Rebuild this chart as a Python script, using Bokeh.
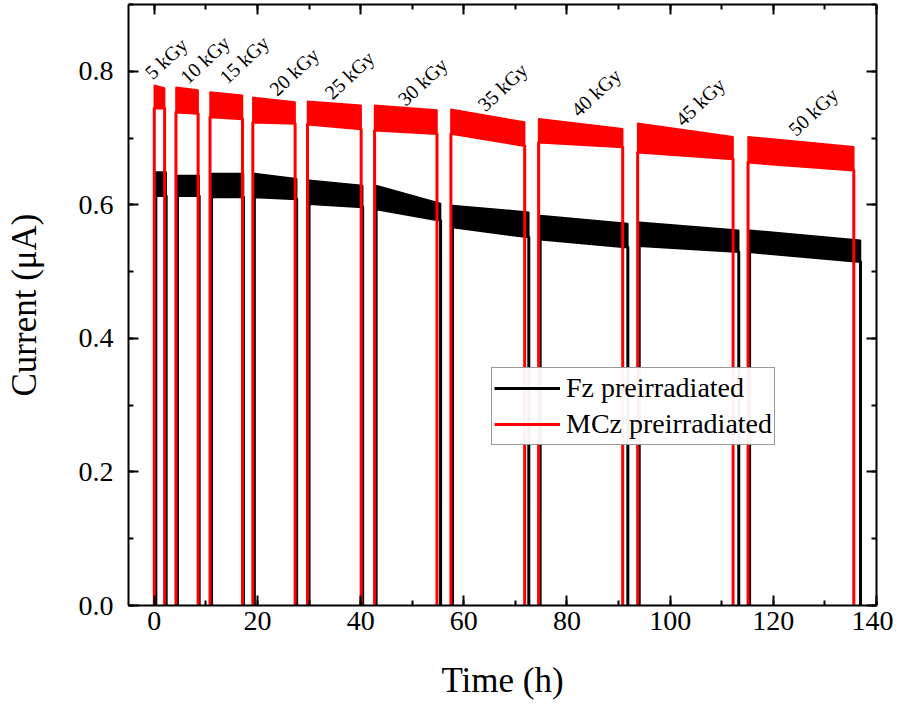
from bokeh.plotting import figure
from bokeh.models import (LinearAxis, SingleIntervalTicker, NumeralTickFormatter,
                          CustomJSTickFormatter, Range1d, Legend, LegendItem)
from bokeh.core.properties import value
from bokeh.embed import file_html
from bokeh.resources import INLINE

FONT = "Liberation Serif"

# irradiation steps (time in h when beam on / off)
red_on = [0.0, 4.2, 10.8, 19.1, 29.7, 42.7, 57.5, 74.5, 93.7, 115.1]
red_off = [2.0, 8.5, 17.1, 27.3, 40.1, 54.8, 71.8, 90.8, 112.2, 135.6]
black_on = [0.3, 4.5, 11.1, 19.4, 30.0, 43.0, 57.8, 74.8, 94.0, 115.4]
black_off = [2.3, 8.7, 17.3, 27.6, 40.4, 55.5, 72.6, 91.8, 113.3, 136.9]

# noise band of the current (uA), start / end of each step
red_top_start = [0.779, 0.776, 0.769, 0.761, 0.755, 0.749, 0.743, 0.729, 0.722, 0.702]
red_top_end = [0.775, 0.772, 0.764, 0.754, 0.749, 0.742, 0.724, 0.714, 0.702, 0.687]
red_bot_start = [0.745, 0.739, 0.732, 0.724, 0.721, 0.712, 0.707, 0.694, 0.679, 0.664]
red_bot_end = [0.745, 0.737, 0.729, 0.722, 0.714, 0.707, 0.689, 0.687, 0.669, 0.652]

black_top_start = [0.649, 0.644, 0.647, 0.647, 0.637, 0.629, 0.599, 0.584, 0.574, 0.562]
black_top_end = [0.649, 0.644, 0.647, 0.639, 0.629, 0.602, 0.589, 0.572, 0.562, 0.547]
black_bot_start = [0.614, 0.614, 0.612, 0.612, 0.602, 0.594, 0.567, 0.549, 0.539, 0.530]
black_bot_end = [0.614, 0.614, 0.612, 0.609, 0.597, 0.577, 0.552, 0.537, 0.530, 0.515]

# dose labels
label_text = ["5 kGy", "10 kGy", "15 kGy", "20 kGy", "25 kGy",
              "30 kGy", "35 kGy", "40 kGy", "45 kGy", "50 kGy"]
label_x = [-1.2, 5.6, 13.2, 22.9, 33.6, 47.8, 63.3, 81.4, 101.6, 123.5]
label_y = [0.794, 0.787, 0.787, 0.769, 0.764, 0.754, 0.746, 0.738, 0.724, 0.709]

p = figure(frame_width=748, frame_height=601,
           x_range=Range1d(-5, 140), y_range=Range1d(0, 0.9),
           x_axis_label="Time (h)", y_axis_label="Current (\u03bcA)",
           output_backend="svg", toolbar_location=None,
           min_border_left=128, min_border_right=17,
           min_border_top=4, min_border_bottom=92)
p.xgrid.visible = False
p.ygrid.visible = False
p.outline_line_color = None
xaxis = p.below[0]
yaxis = p.left[0]


def draw(on, off, top_s, top_e, bot_s, bot_e, color):
    xs = [[a, b, b, a] for a, b in zip(on, off)]
    ys = [[bs, be, te, ts] for bs, be, te, ts in zip(bot_s, bot_e, top_e, top_s)]
    p.patches(xs, ys, fill_color=color, line_color=color, line_width=1.5)
    lx = [[a, a, b, b] for a, b in zip(on, off)]
    ly = [[0, bs, be, 0] for bs, be in zip(bot_s, bot_e)]
    return p.multi_line(lx, ly, line_color=color, line_width=3)


r_black = draw(black_on, black_off, black_top_start, black_top_end,
               black_bot_start, black_bot_end, "black")
r_red = draw(red_on, red_off, red_top_start, red_top_end,
             red_bot_start, red_bot_end, "#ff0000")

p.text(x=label_x, y=label_y, text=label_text, angle=0.75,
       text_font=value(FONT), text_font_size="20px",
       text_align="left", text_baseline="alphabetic", text_color="black")

xt = SingleIntervalTicker(interval=20, num_minor_ticks=2)
yt = SingleIntervalTicker(interval=0.2, num_minor_ticks=2)
xaxis.ticker = xt
yaxis.ticker = yt
yaxis.formatter = NumeralTickFormatter(format="0.0")

blank = CustomJSTickFormatter(code="return ''")
top = LinearAxis(ticker=xt, formatter=blank, major_label_standoff=0)
right = LinearAxis(ticker=yt, formatter=blank, major_label_standoff=0)
p.add_layout(top, "above")
p.add_layout(right, "right")

for ax in [xaxis, yaxis, top, right]:
    ax.axis_line_width = 2
    ax.major_tick_line_width = 2
    ax.minor_tick_line_width = 2
    ax.major_tick_in = 10
    ax.major_tick_out = 0
    ax.minor_tick_in = 5
    ax.minor_tick_out = 0
    ax.major_label_text_font = FONT
    ax.major_label_text_font_size = "28px"
    ax.major_label_text_color = "black"
    ax.axis_label_text_font = FONT
    ax.axis_label_text_font_size = "35px"
    ax.axis_label_text_font_style = "normal"
    ax.axis_label_text_color = "black"

xaxis.major_label_standoff = 6
xaxis.axis_label_standoff = 28
yaxis.major_label_standoff = 15
yaxis.axis_label_standoff = 32

legend = Legend(items=[LegendItem(label="Fz preirradiated", renderers=[r_black]),
                       LegendItem(label="MCz preirradiated", renderers=[r_red])],
                location=(363, 160))
legend.label_text_font = FONT
legend.label_text_font_size = "28px"
legend.label_text_color = "black"
legend.glyph_width = 66
legend.glyph_height = 36
legend.label_height = 36
legend.spacing = 0
legend.padding = 2
legend.margin = 0
legend.label_standoff = 6
legend.border_line_color = "#333333"
legend.border_line_width = 1
p.add_layout(legend)

open("out.html", "w").write(file_html(p, INLINE))
